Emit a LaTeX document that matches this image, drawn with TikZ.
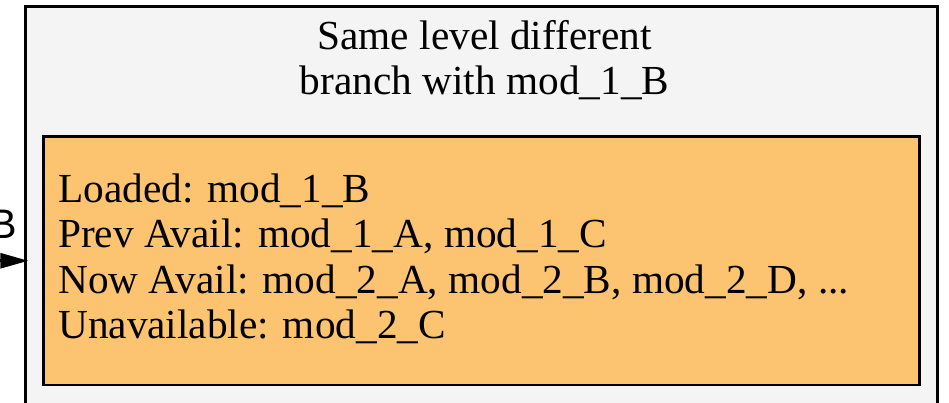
\documentclass[tikz,border=0pt]{standalone}
\usepackage{fontspec}
\setmainfont{Liberation Serif}
\newfontfamily\edgefont{Liberation Sans}
\usetikzlibrary{arrows.meta}
\definecolor{clfill}{HTML}{F4F4F4}
\definecolor{modfill}{HTML}{FCC470}
\tikzset{clbox/.style={draw,fill=clfill,line width=3pt,inner sep=0pt},
         modbox/.style={draw,fill=modfill,line width=2.8pt,inner sep=0pt},
         bigtxt/.style={font=\fontsize{41.3}{45.3}\selectfont,inner sep=0pt},
         edgelab/.style={font=\edgefont\fontsize{41.3}{45.3}\selectfont,inner sep=0pt},
         edgearr/.style={line width=2.8pt,-{Triangle[length=28pt,width=15pt]}}}

\begin{document}
\begin{tikzpicture}[x=1pt,y=-1pt]
    \path[use as bounding box,clip] (0,0) rectangle (949,402);
    % cluster and its title
    \node[clbox,minimum width=912pt,minimum height=423.5pt] (cl) at (481.5,218.25) {};
    \node[bigtxt,align=center,anchor=north] (cltitle) at (484.5,20.1)
      {Same level different\\branch with mod\_1\_B};
    % module node
    \node[modbox,minimum width=875.8pt,minimum height=248.5pt] (mod) at (481.6,260.75) {};
    \node[bigtxt,align=left,anchor=north west] (modtxt) at (58,173.8)
      {Loaded: mod\_1\_B\\Prev Avail: mod\_1\_A, mod\_1\_C\\Now Avail: mod\_2\_A, mod\_2\_B, mod\_2\_D, ...\\Unavailable: mod\_2\_C};
    % incoming edge into the cluster
    \coordinate (src) at (-40,260.75); \coordinate (entry) at (28.3,260.75);
    \draw[edgearr] (src) -- (entry);
    \node[edgelab,anchor=base east] (blab) at (17,238) {B};
  \end{tikzpicture}
\end{document}
